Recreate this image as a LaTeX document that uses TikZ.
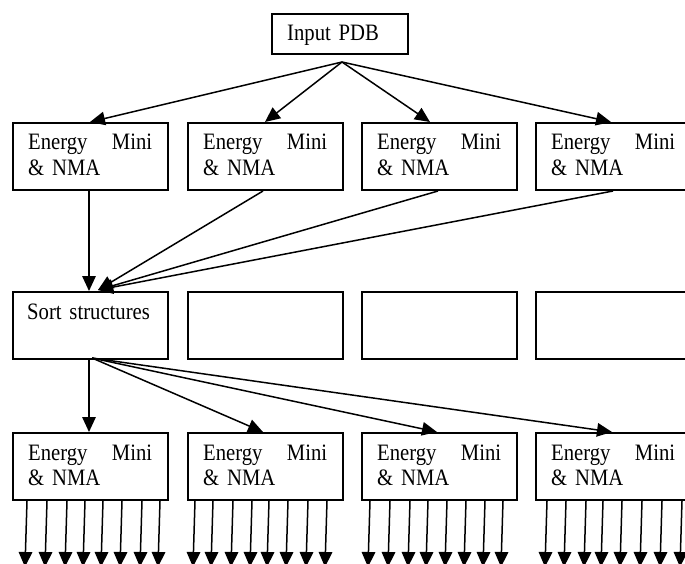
\documentclass[tikz,border=0pt]{standalone}
\usepackage{fontspec}
\setmainfont{Liberation Serif}[FakeStretch=0.88]
\usetikzlibrary{arrows.meta,calc}
\tikzset{
  box/.style={draw, line width=2pt, rectangle, minimum width=155pt,
    minimum height=67pt, inner sep=0pt, anchor=north west},
  boxtext/.style={anchor=base west, inner sep=0pt,
    font=\fontsize{23.5}{25}\selectfont, text width=124pt, align=left},
  arr/.style={line width=1.5pt, -{Triangle[length=15pt 0 0,width=13.5pt 0 0]}},
}
\begin{document}
\begin{tikzpicture}[x=1pt,y=-1pt]
\useasboundingbox (0,0) rectangle (685,564);
\clip (0,0) rectangle (685,564);

% input box
\node[box, minimum width=136pt, minimum height=40pt] (in) at (271,13) {};
\node[boxtext] (intxt) at ($(in.north west)+(16,28)$) {Input PDB};

% three rows of four boxes
\foreach \i/\x in {1/12,2/187,3/361,4/535} {
  \node[box] (a\i) at (\x,122) {};
  \node[boxtext] (a\i txt) at ($(a\i.north west)+(16,28)$)
    {\hbox to 124pt{Energy\hfill Mini}\\\& NMA};
  \node[box] (b\i) at (\x,291) {};
  \node[box] (c\i) at (\x,432) {};
  \node[boxtext] (c\i txt) at ($(c\i.north west)+(16,28)$)
    {\hbox to 124pt{Energy\hfill Mini}\\\& NMA};
}
\node[boxtext] (b1txt) at ($(b1.north west)+(15,28)$) {Sort structures};

% fan-out from the input
\coordinate (fork) at (342,62);
\draw[arr] (fork) -- ($(a1.north west)+(78,0)$);
\draw[arr] (fork) -- ($(a2.north west)+(78,0)$);
\draw[arr] (fork) -- ($(a3.north west)+(69,0)$);
\draw[arr] (fork) -- ($(a4.north west)+(76,0)$);

% gather into the sort step
\draw[arr] ($(a1.south west)+(77,0)$) -- ($(b1.north west)+(77,0)$);
\coordinate (merge) at (98,290);
\draw[arr] ($(a2.south west)+(76,0)$) -- (merge);
\draw[arr] ($(a3.south west)+(77,0)$) -- (merge);
\draw[arr] ($(a4.south west)+(78,0)$) -- (merge);

% second fan-out
\draw[arr] ($(b1.south west)+(77,0)$) -- ($(c1.north west)+(77,0)$);
\coordinate (split) at (92,358);
\draw[arr] (split) -- ($(c2.north west)+(76,0)$);
\draw[arr] (split) -- ($(c3.north west)+(76,0)$);
\draw[arr] (split) -- ($(c4.north west)+(77,0)$);

% outputs below each box
\foreach \i/\offs in {1/{15,35,55,73,91,110,130,148},
                      2/{8,26,46,65,82,101,121,140},
                      3/{9,29,49,67,86,105,124,142},
                      4/{12,31,51,68,87,107,127,147}} {
  \foreach \o in \offs {
    \coordinate (out\i-\o) at ($(c\i.south west)+(\o-2,66)$);
    \draw[arr] ($(c\i.south west)+(\o,0)$) -- (out\i-\o);
  }
}
\end{tikzpicture}
\end{document}
